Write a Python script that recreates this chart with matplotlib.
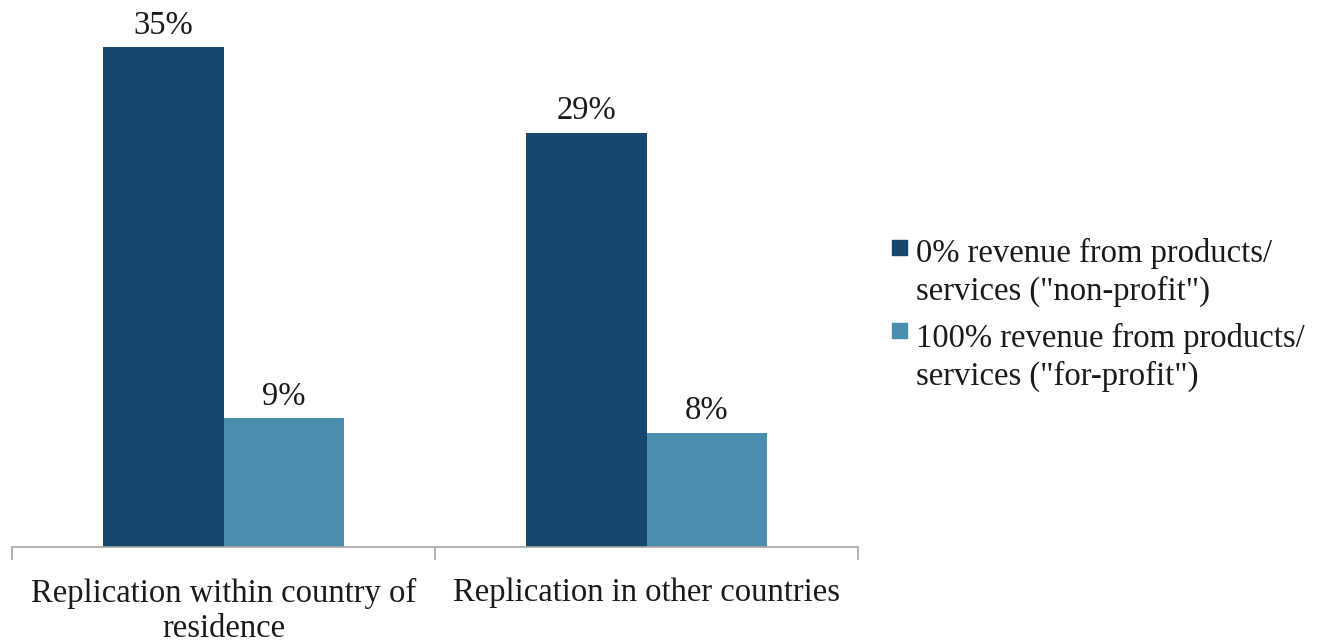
import matplotlib
matplotlib.use("Agg")
import matplotlib.pyplot as plt
from matplotlib.patches import Rectangle
import numpy as np

categories = ["Replication within country of\nresidence", "Replication in other countries"]
series_names = ['0% revenue from products/\nservices ("non-profit")',
                '100% revenue from products/\nservices ("for-profit")']
non_profit = [35, 29]
for_profit = [9, 8]
colors = ["#17476F", "#4A90AE"]

plt.rcParams["font.family"] = ["Liberation Serif", "DejaVu Serif"]
FS = 23.5
TEXT = "#1a1a1a"
W, H = 1319, 644

fig = plt.figure(figsize=(W / 100, H / 100), dpi=100)
ax = fig.add_axes([12 / W, 97 / H, 846 / W, 547 / H])

x = np.arange(len(categories))
width = 0.285
bars1 = ax.bar(x - width / 2, non_profit, width, color=colors[0])
bars2 = ax.bar(x + width / 2, for_profit, width, color=colors[1])

for bars, vals in ((bars1, non_profit), (bars2, for_profit)):
    for b, v in zip(bars, vals):
        ax.text(b.get_x() + b.get_width() / 2, v + 0.45, f"{v}%",
                ha="center", va="bottom", fontsize=FS, color=TEXT)

ax.set_xlim(-0.5, len(categories) - 0.5)
ax.set_ylim(0, 35 * 547 / 500)
ax.set_yticks([])
for side in ("top", "right", "left"):
    ax.spines[side].set_visible(False)
ax.spines["bottom"].set_color("#A6A6A6")
ax.spines["bottom"].set_linewidth(1.2)

# boundary ticks between categories, labels centred under each group
ax.set_xticks(np.arange(-0.5, len(categories), 1.0))
ax.set_xticklabels([])
ax.tick_params(axis="x", which="major", length=9, width=1.2, color="#A6A6A6", direction="out")
ax.set_xticks(x, minor=True)
ax.set_xticklabels(categories, minor=True, fontsize=FS, color=TEXT, linespacing=1.22)
ax.tick_params(axis="x", which="minor", length=0, pad=22)

# legend: square key aligned with the first line of each two-line label
line_step = 38
entry_step = 85
for i, (name, col) in enumerate(zip(series_names, colors)):
    base = 262 + i * entry_step
    top = 240 + i * (entry_step - 2)
    fig.patches.append(Rectangle((892 / W, 1 - (top + 15) / H), 15 / W, 15 / H,
                                 transform=fig.transFigure, color=col))
    for j, line in enumerate(name.split("\n")):
        fig.text(916 / W, 1 - (base + j * line_step) / H, line,
                 ha="left", va="baseline", fontsize=FS, color=TEXT)

fig.savefig("out.png", dpi=100)
